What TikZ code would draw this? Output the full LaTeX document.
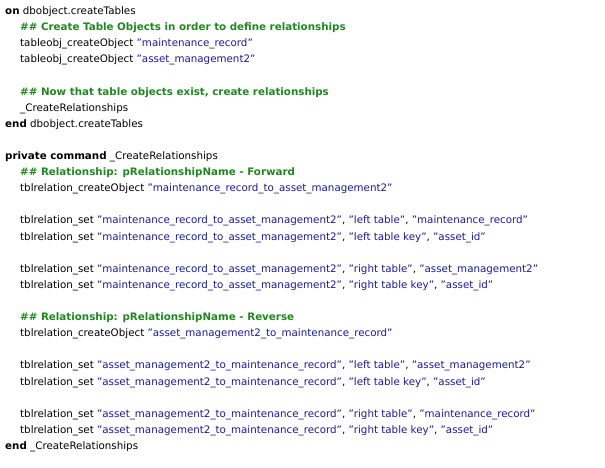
\documentclass[tikz,border=0pt]{standalone}
\usepackage{fontspec}
\defaultfontfeatures{}
\setmainfont{DejaVu Sans}
\definecolor{cgreen}{RGB}{30,135,30}
\definecolor{cblue}{RGB}{25,25,150}
\newcommand{\qs}[1]{\textcolor{cblue}{\symbol{34}#1\symbol{34}}}
\newcommand{\cm}[1]{\textcolor{cgreen}{\bfseries #1}}
\newcommand{\kw}[1]{\textbf{#1}}
\begin{document}
\begin{tikzpicture}[x=1pt,y=1pt,ln/.style={anchor=west,inner sep=0pt,font=\fontsize{10.3}{12}\selectfont}]
\useasboundingbox (0,0) rectangle (605,467);
\def\A{maintenance\_record\_to\_asset\_management2}
\def\B{asset\_management2\_to\_maintenance\_record}
\newcommand{\Ln}[3]{\node[ln] (l#1) at (#2,{467-12-16.1*#1}) {#3};}
\Ln{0}{5}{\kw{on} dbobject.createTables}
\Ln{1}{20}{\cm{\#\# Create Table Objects in order to define relationships}}
\Ln{2}{20}{tableobj\_createObject \qs{maintenance\_record}}
\Ln{3}{20}{tableobj\_createObject \qs{asset\_management2}}
\Ln{5}{20}{\cm{\#\# Now that table objects exist, create relationships}}
\Ln{6}{20}{\_CreateRelationships}
\Ln{7}{5}{\kw{end} dbobject.createTables}
\Ln{9}{5}{\kw{private command} \_CreateRelationships}
\Ln{10}{20}{\cm{\#\# Relationship: pRelationshipName - Forward}}
\Ln{11}{20}{tblrelation\_createObject \qs{\A}}
\Ln{13}{20}{tblrelation\_set \qs{\A}, \qs{left table}, \qs{maintenance\_record}}
\Ln{14}{20}{tblrelation\_set \qs{\A}, \qs{left table key}, \qs{asset\_id}}
\Ln{16}{20}{tblrelation\_set \qs{\A}, \qs{right table}, \qs{asset\_management2}}
\Ln{17}{20}{tblrelation\_set \qs{\A}, \qs{right table key}, \qs{asset\_id}}
\Ln{19}{20}{\cm{\#\# Relationship: pRelationshipName - Reverse}}
\Ln{20}{20}{tblrelation\_createObject \qs{\B}}
\Ln{22}{20}{tblrelation\_set \qs{\B}, \qs{left table}, \qs{asset\_management2}}
\Ln{23}{20}{tblrelation\_set \qs{\B}, \qs{left table key}, \qs{asset\_id}}
\Ln{25}{20}{tblrelation\_set \qs{\B}, \qs{right table}, \qs{maintenance\_record}}
\Ln{26}{20}{tblrelation\_set \qs{\B}, \qs{right table key}, \qs{asset\_id}}
\Ln{27}{5}{\kw{end} \_CreateRelationships}
\end{tikzpicture}
\end{document}
